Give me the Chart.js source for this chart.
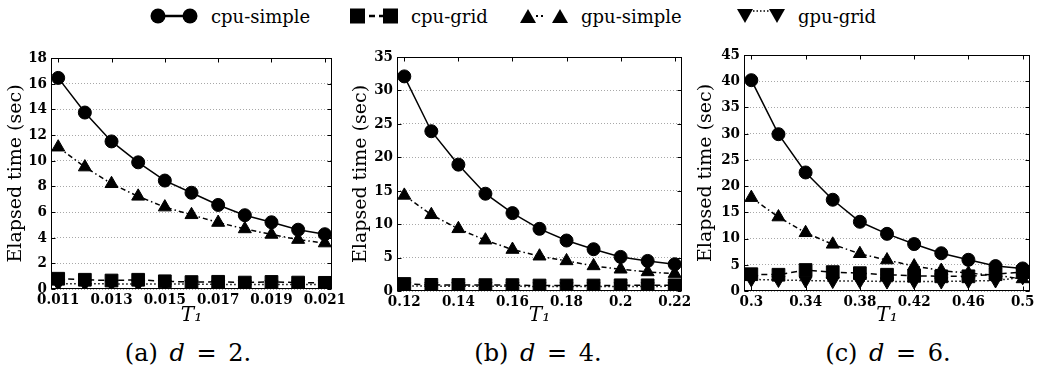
<!DOCTYPE html>
<html>
<head>
<meta charset="utf-8">
<script src="https://cdn.jsdelivr.net/npm/chart.js@4.4.0/dist/chart.umd.min.js"></script>
<style>
  body { margin: 0; width: 1040px; height: 383px; background: #fff; position: relative; overflow: hidden; font-family: "DejaVu Serif", serif; color: #000; }
  .panel { position: absolute; top: 35px; height: 295px; }
  .legend-item { position: absolute; top: 4px; height: 24px; display: flex; align-items: center; font-size: 18px; }
  .legend-item svg { margin-right: 13px; }
  .caption { position: absolute; top: 339px; width: 220px; text-align: center; font-size: 24px; word-spacing: 4px; }
</style>
</head>
<body>
<div id="legend"></div>
<div class="panel" style="left:0;width:360px"><canvas id="chart-d2"></canvas></div>
<div class="panel" style="left:345px;width:365px"><canvas id="chart-d4"></canvas></div>
<div class="panel" style="left:690px;width:350px"><canvas id="chart-d6"></canvas></div>
<div class="caption" style="left:78px">(a) <i>d</i> = 2.</div>
<div class="caption" style="left:428px">(b) <i>d</i> = 4.</div>
<div class="caption" style="left:778px">(c) <i>d</i> = 6.</div>

<script>
// Series names (legend order)
const seriesNames = ['cpu-simple', 'cpu-grid', 'gpu-simple', 'gpu-grid'];

// d = 2
const t1D2 = [0.011, 0.012, 0.013, 0.014, 0.015, 0.016, 0.017, 0.018, 0.019, 0.020, 0.021];
const xTicksD2 = [0.011, 0.013, 0.015, 0.017, 0.019, 0.021];
const cpuSimpleD2 = [16.45, 13.75, 11.5, 9.87, 8.45, 7.5, 6.55, 5.75, 5.2, 4.62, 4.27];
const cpuGridD2 = [0.8, 0.72, 0.66, 0.72, 0.6, 0.54, 0.56, 0.5, 0.55, 0.5, 0.48];
const gpuSimpleD2 = [11.05, 9.5, 8.2, 7.22, 6.38, 5.78, 5.18, 4.68, 4.25, 3.85, 3.58];
const gpuGridD2 = [0.42, 0.4, 0.4, 0.38, 0.38, 0.38, 0.36, 0.36, 0.36, 0.35, 0.35];

// d = 4
const t1D4 = [0.12, 0.13, 0.14, 0.15, 0.16, 0.17, 0.18, 0.19, 0.2, 0.21, 0.22];
const xTicksD4 = [0.12, 0.14, 0.16, 0.18, 0.2, 0.22];
const cpuSimpleD4 = [32.1, 23.9, 18.9, 14.55, 11.65, 9.3, 7.55, 6.25, 5.1, 4.5, 4.0];
const cpuGridD4 = [1.05, 0.92, 0.9, 0.88, 0.88, 0.82, 0.82, 0.82, 0.85, 0.85, 0.85];
const gpuSimpleD4 = [14.3, 11.4, 9.3, 7.6, 6.2, 5.2, 4.5, 3.75, 3.25, 2.85, 2.6];
const gpuGridD4 = [0.75, 0.72, 0.7, 0.7, 0.7, 0.68, 0.68, 0.68, 0.68, 0.68, 0.7];

// d = 6
const t1D6 = [0.3, 0.32, 0.34, 0.36, 0.38, 0.4, 0.42, 0.44, 0.46, 0.48, 0.5];
const xTicksD6 = [0.3, 0.34, 0.38, 0.42, 0.46, 0.5];
const cpuSimpleD6 = [40.2, 29.9, 22.6, 17.4, 13.2, 10.9, 8.95, 7.2, 5.95, 4.75, 4.3];
const cpuGridD6 = [3.2, 3.1, 4.0, 3.6, 3.4, 3.1, 2.9, 2.8, 2.8, 3.2, 3.6];
const gpuSimpleD6 = [17.8, 14.1, 11.1, 8.9, 7.1, 5.9, 4.75, 3.9, 3.4, 3.0, 2.3];
const gpuGridD6 = [2.2, 2.1, 2.0, 1.9, 1.9, 1.8, 1.8, 1.8, 1.9, 2.0, 2.6];

const serifFamily = '"DejaVu Serif", serif';
const tickFamily = '"DejaVu Serif Condensed", "DejaVu Serif", serif';

// Line / marker look per series
const seriesStyles = [
  { pointStyle: 'circle', radius: 6.5, rotation: 0, dash: [] },
  { pointStyle: 'rect', radius: 9, rotation: 0, dash: [6, 4] },
  { pointStyle: 'triangle', radius: 7.5, rotation: 0, dash: [5, 3, 1.5, 3] },
  { pointStyle: 'triangle', radius: 7.5, rotation: 180, dash: [1.5, 2.5] }
];

// Box round the plot area with small inward ticks
const framePlugin = {
  id: 'frame',
  afterDraw(chart) {
    const { ctx, chartArea: a, scales } = chart;
    const l = Math.round(a.left) + 0.5, r = Math.round(a.right) - 0.5;
    const t = Math.round(a.top) + 0.5, b = Math.round(a.bottom) - 0.5;
    ctx.save();
    ctx.strokeStyle = '#000';
    ctx.lineWidth = 1;
    ctx.setLineDash([]);
    ctx.strokeRect(l, t, r - l, b - t);
    ctx.beginPath();
    scales.x.ticks.forEach(tick => {
      const px = Math.round(scales.x.getPixelForValue(tick.value)) + 0.5;
      ctx.moveTo(px, b); ctx.lineTo(px, b - 4);
      ctx.moveTo(px, t); ctx.lineTo(px, t + 4);
    });
    scales.y.ticks.forEach(tick => {
      const py = Math.round(scales.y.getPixelForValue(tick.value)) + 0.5;
      ctx.moveTo(l, py); ctx.lineTo(l + 4, py);
      ctx.moveTo(r, py); ctx.lineTo(r - 4, py);
    });
    ctx.stroke();
    ctx.restore();
  }
};

function buildChart(canvasId, t1, xTicks, series, yMax, yStep, layout) {
  const step = t1[1] - t1[0];
  const pad = step * 0.27;

  const datasets = series.map((values, i) => {
    const st = seriesStyles[i];
    return {
      label: seriesNames[i],
      data: t1.map((x, j) => ({ x: x, y: values[j] })),
      borderColor: '#000',
      backgroundColor: '#000',
      borderWidth: 1.5,
      borderDash: st.dash,
      pointStyle: st.pointStyle,
      pointRadius: st.radius,
      pointRotation: st.rotation,
      pointBackgroundColor: '#000',
      pointBorderColor: '#000',
      pointBorderWidth: 1,
      tension: 0
    };
  });

  return new Chart(document.getElementById(canvasId), {
    type: 'line',
    data: { datasets: datasets },
    plugins: [framePlugin],
    options: {
      responsive: true,
      maintainAspectRatio: false,
      animation: false,
      events: [],
      layout: { padding: { top: layout.top, right: layout.right, bottom: 0, left: 0 } },
      plugins: { legend: { display: false }, tooltip: { enabled: false } },
      scales: {
        x: {
          type: 'linear',
          min: t1[0] - pad,
          max: t1[t1.length - 1] + pad,
          afterBuildTicks: scale => { scale.ticks = xTicks.map(v => ({ value: v })); },
          afterFit: scale => { scale.height = layout.xAxisH; },
          grid: { display: false, drawTicks: false },
          border: { display: false },
          ticks: {
            autoSkip: false,
            maxRotation: 0,
            padding: 2,
            color: '#000',
            font: { family: tickFamily, size: 15, weight: 'bold' },
            callback: value => String(value)
          },
          title: {
            display: true,
            text: 'T\u2081',
            color: '#000',
            padding: { top: 0, bottom: 2 },
            font: { family: serifFamily, size: 20, style: 'italic' }
          }
        },
        y: {
          min: 0,
          max: yMax,
          afterFit: scale => { scale.width = layout.yAxisW; },
          grid: { color: '#a8a8a8', lineWidth: 1, drawTicks: false },
          border: { display: false, dash: [1, 2] },
          ticks: {
            stepSize: yStep,
            padding: 4,
            color: '#000',
            font: { family: tickFamily, size: 15, weight: 'bold' }
          },
          title: {
            display: true,
            text: 'Elapsed time (sec)',
            color: '#000',
            padding: { top: 5, bottom: 0 },
            font: { family: serifFamily, size: 19 }
          }
        }
      }
    }
  });
}

// Shared legend above the panels
function buildLegend() {
  const legend = document.getElementById('legend');
  const lefts = [150, 350, 520, 737];
  const icons = [
    '<circle cx="8" cy="11" r="7.5"/><circle cx="40" cy="11" r="7.5"/><line x1="8" y1="11" x2="40" y2="11" stroke="#000" stroke-width="2.5"/>',
    '<rect x="0" y="3.5" width="15" height="15"/><rect x="33" y="3.5" width="15" height="15"/><line x1="15" y1="11" x2="33" y2="11" stroke="#000" stroke-width="2.5" stroke-dasharray="6 4" stroke-dashoffset="-4"/>',
    '<polygon points="0,18 8,4 16,18"/><polygon points="32,18 40,4 48,18"/><line x1="16" y1="11" x2="32" y2="11" stroke="#000" stroke-width="2" stroke-dasharray="2 3 2 9"/>',
    '<polygon points="0,4 8,18 16,4"/><polygon points="32,4 40,18 48,4"/><line x1="16" y1="6" x2="32" y2="6" stroke="#000" stroke-width="1.5" stroke-dasharray="1.5 2"/>'
  ];
  seriesNames.forEach((name, i) => {
    const item = document.createElement('div');
    item.className = 'legend-item';
    item.style.left = lefts[i] + 'px';
    item.innerHTML = '<svg width="48" height="22" viewBox="0 0 48 22" fill="#000">' + icons[i] + '</svg><span>' + name + '</span>';
    legend.appendChild(item);
  });
}

buildLegend();
buildChart('chart-d2', t1D2, xTicksD2, [cpuSimpleD2, cpuGridD2, gpuSimpleD2, gpuGridD2], 18, 2,
  { top: 23, right: 28, yAxisW: 51, xAxisH: 41 });
buildChart('chart-d4', t1D4, xTicksD4, [cpuSimpleD4, cpuGridD4, gpuSimpleD4, gpuGridD4], 35, 5,
  { top: 22, right: 28, yAxisW: 52, xAxisH: 39 });
buildChart('chart-d6', t1D6, xTicksD6, [cpuSimpleD6, cpuGridD6, gpuSimpleD6, gpuGridD6], 45, 5,
  { top: 20, right: 7, yAxisW: 54, xAxisH: 39 });
</script>
</body>
</html>
